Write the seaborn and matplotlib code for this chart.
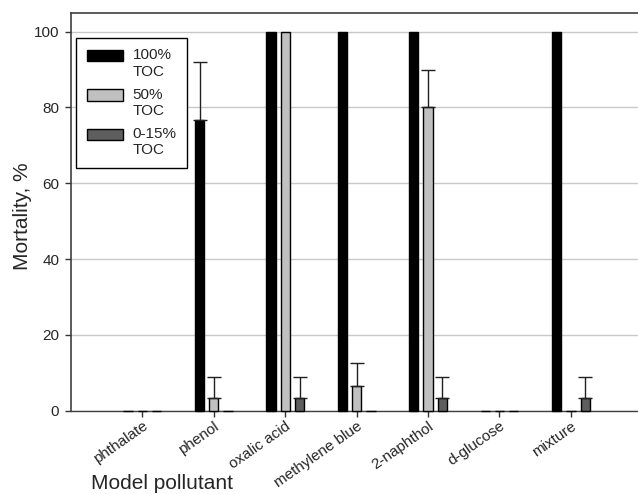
import numpy as np
import pandas as pd
import matplotlib
matplotlib.use('Agg')
import matplotlib.pyplot as plt
from matplotlib.patches import Rectangle
from matplotlib.legend_handler import HandlerPatch
import seaborn as sns

# Datos
pollutants = ['phthalate', 'phenol', 'oxalic acid', 'methylene blue',
              '2-naphthol', 'd-glucose', 'mixture']
groups = ['100%\nTOC', '50%\nTOC', '0-15%\nTOC']
toc100 = [0, 76.8, 100, 100, 100, 0, 100]
toc100_err = [0, 15.1, 0, 0, 0, 0, 0]
toc50 = [0, 3.3, 100, 6.6, 80, 0, 0]
toc50_err = [0, 5.7, 0, 5.9, 10, 0, 0]
toc15 = [0, 0, 3.3, 0, 3.3, 0, 3.3]
toc15_err = [0, 0, 5.7, 0, 5.7, 0, 5.7]
colors = ['#000000', '#c0c0c0', '#5e5e5e']

sns.set_style('white')
plt.rcParams['font.family'] = ['Liberation Sans', 'DejaVu Sans']

data = pd.DataFrame({
    'pollutant': pollutants * 3,
    'group': np.repeat(groups, len(pollutants)),
    'mortality': toc100 + toc50 + toc15,
})
errors = [toc100_err, toc50_err, toc15_err]

fig = plt.figure(figsize=(6.38, 4.94), dpi=100)
ax = fig.add_axes([71 / 638, 1 - 410.7 / 494, 1 - 71 / 638, (410.7 - 12.7) / 494])
ax.set_axisbelow(True)
ax.yaxis.grid(True, color='#c8c8c8', linewidth=1)

sns.barplot(data=data, x='pollutant', y='mortality', hue='group',
            palette=colors, width=0.6, gap=0.35, errorbar=None,
            edgecolor='black', linewidth=1, saturation=1, ax=ax)

# barras de error (solo hacia arriba)
for cont, err in zip(ax.containers, errors):
    for bar, e in zip(cont, err):
        bar.set_zorder(3)
        bar.set_clip_on(False)
        if e > 0:
            xc = bar.get_x() + bar.get_width() / 2
            ax.errorbar(xc, bar.get_height(), yerr=[[0], [e]], fmt='none',
                        ecolor='#202020', elinewidth=1, capsize=5, capthick=1,
                        zorder=3)

ax.set_ylim(0, 105)
ax.set_xlim(-1.0, 6.94)
ax.set_yticks([0, 20, 40, 60, 80, 100])
ax.tick_params(axis='y', labelsize=11, direction='out', length=4.5, width=1,
               color='#333333', left=True, pad=4)
ax.tick_params(axis='x', labelsize=11, direction='out', length=4.5, width=1,
               color='#333333', bottom=True, pad=1.5)
for lab in ax.get_xticklabels():
    lab.set_rotation(35)
    lab.set_ha('right')
    lab.set_va('top')
    lab.set_rotation_mode('anchor')

for s in ['left', 'top']:
    ax.spines[s].set_color('#404040')
    ax.spines[s].set_linewidth(1.2)
ax.spines['bottom'].set_color('#404040')
ax.spines['bottom'].set_linewidth(1.0)
ax.spines['right'].set_visible(False)

ax.set_ylabel('Mortality, %', fontsize=15, va='center')
ax.yaxis.set_label_coords(-0.0864, 0.488)
ax.set_xlabel('Model pollutant', fontsize=15, ha='left', va='baseline')
ax.xaxis.set_label_coords(0.035, -0.197)


# rectangulo de la leyenda alineado con la primera linea del texto
def top_patch(legend, orig_handle, xdescent, ydescent, width, height, fontsize):
    h = 0.75 * fontsize
    return Rectangle((-xdescent, -ydescent + height - h + 0.1 * fontsize), width, h)


handles, labels = ax.get_legend_handles_labels()
leg = ax.legend(handles, labels, loc='upper left', bbox_to_anchor=(0.009, 0.937),
                fontsize=11, frameon=True, fancybox=False, edgecolor='black',
                handlelength=2.35, handleheight=2.2, labelspacing=0.6,
                borderpad=0.7, handletextpad=0.65, borderaxespad=0,
                handler_map={h: HandlerPatch(patch_func=top_patch) for h in handles})
leg.get_frame().set_linewidth(1)
leg.get_frame().set_alpha(1)

fig.savefig('out.png', dpi=100)
